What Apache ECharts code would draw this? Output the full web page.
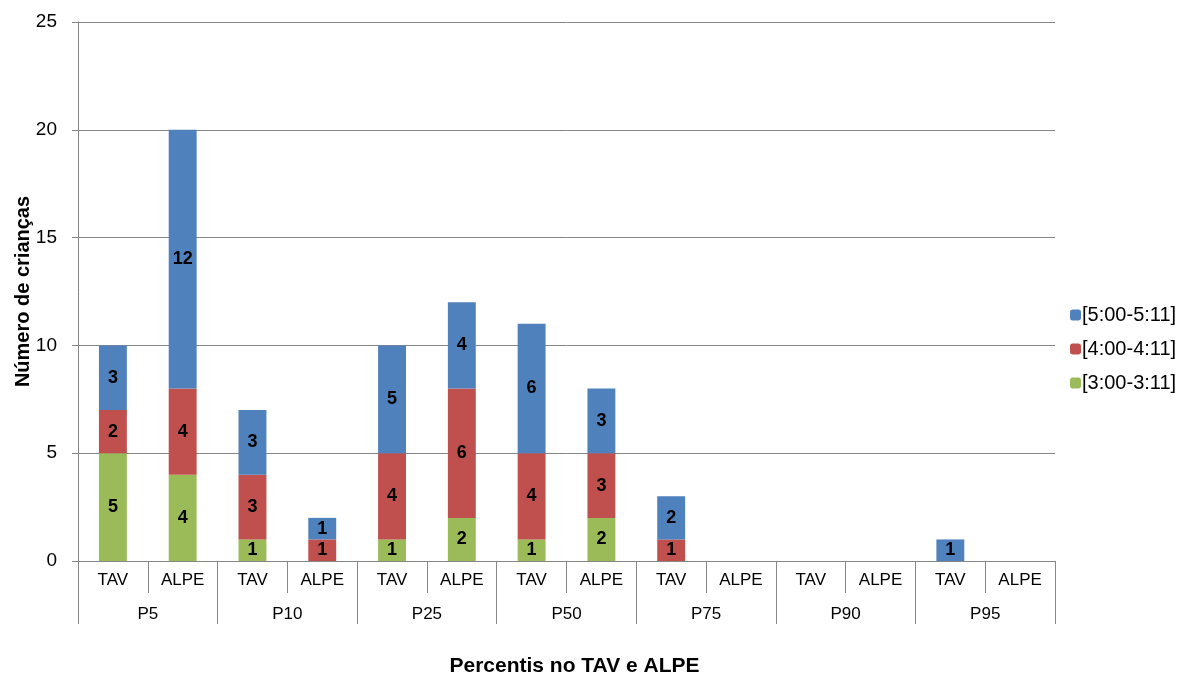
<!DOCTYPE html>
<html>
<head>
<meta charset="utf-8">
<script src="https://cdn.jsdelivr.net/npm/echarts@6/dist/echarts.min.js"></script>
<style>html,body{margin:0;padding:0;background:#fff}#c{width:1192px;height:677px}</style>
</head>
<body>
<div id="c"></div>
<script>
const groups = ['P5','P10','P25','P50','P75','P90','P95'];
const subs = ['TAV','ALPE'];
const categories = [];
groups.forEach(g => subs.forEach(s => categories.push(s)));
const seriesNames = ['[3:00-3:11]','[4:00-4:11]','[5:00-5:11]'];
const green = [5,4, 1,0, 1,2, 1,2, 0,0, 0,0, 0,0];
const red   = [2,4, 3,1, 4,6, 4,3, 1,0, 0,0, 0,0];
const blue  = [3,12, 3,1, 5,4, 6,3, 2,0, 0,0, 1,0];
const yTicks = [0,5,10,15,20,25];

const colors = ['#9BBB59','#C0504D','#4F81BD'];
const font = 'Liberation Sans, Arial, sans-serif';
const mk = (name, data, color) => ({
  name, type:'bar', stack:'s', data, xAxisIndex:0, barWidth:'40%',
  itemStyle:{color},
  label:{show:true, position:'inside', color:'#000', fontWeight:'bold', fontSize:18, fontFamily:font,
    formatter: p => p.value ? String(p.value) : ''}
});
const chart = echarts.init(document.getElementById('c'));
chart.setOption({
  animation:false,
  textStyle:{fontFamily:font},
  grid:{left:78, right:137, top:22, bottom:116, containLabel:false, outerBoundsMode:'none'},
  legend:{orient:'vertical', left:1065, top:300, itemGap:14, itemWidth:11, itemHeight:11,
    data:[seriesNames[2], seriesNames[1], seriesNames[0]],
    textStyle:{fontSize:20, color:'#000', fontFamily:font, padding:[0,0,0,-4]}},
  xAxis:[
    {type:'category', data:categories, position:'bottom',
      axisLine:{show:true, lineStyle:{color:'#868686'}},
      axisTick:{show:true, length:32, interval:0, lineStyle:{color:'#868686'}},
      axisLabel:{interval:0, margin:11, fontSize:17, color:'#000', fontFamily:font}},
    {type:'category', data:groups, position:'bottom',
      axisLine:{show:false},
      axisTick:{show:true, length:63, interval:0, lineStyle:{color:'#868686'}},
      axisLabel:{interval:0, margin:45, fontSize:17, color:'#000', fontFamily:font},
      name:'Percentis no TAV e ALPE', nameLocation:'middle', nameGap:95, nameMoveOverlap:false,
      nameTextStyle:{fontSize:21, fontWeight:'bold', color:'#000', fontFamily:font, padding:[0,0,0,16]}}
  ],
  yAxis:{type:'value', min:yTicks[0], max:yTicks[yTicks.length-1], interval:5,
    axisLine:{show:true, lineStyle:{color:'#868686'}},
    axisTick:{show:true, length:6, lineStyle:{color:'#868686'}},
    splitLine:{show:true, lineStyle:{color:'#868686'}},
    axisLabel:{fontSize:19, color:'#000', margin:21, fontFamily:font},
    name:'Número de crianças', nameLocation:'middle', nameGap:45, nameRotate:90, nameMoveOverlap:false,
    nameTextStyle:{fontSize:20, fontWeight:'bold', color:'#000', fontFamily:font}},
  series:[mk(seriesNames[0], green, colors[0]), mk(seriesNames[1], red, colors[1]), mk(seriesNames[2], blue, colors[2])]
});
</script>
</body>
</html>
